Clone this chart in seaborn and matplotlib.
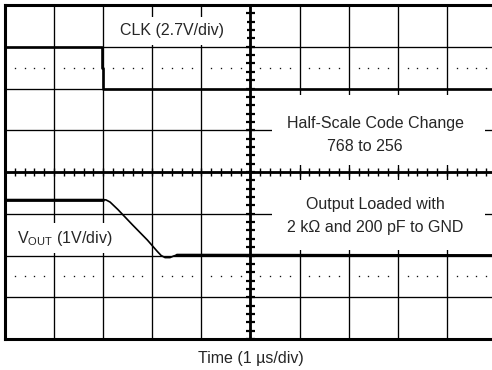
import numpy as np
import pandas as pd
import seaborn as sns
import matplotlib.pyplot as plt
from matplotlib.patches import Rectangle

sns.set_style("white")
plt.rcParams['font.family'] = ['Liberation Sans', 'DejaVu Sans']
plt.rcParams['mathtext.fontset'] = 'custom'
plt.rcParams['mathtext.rm'] = 'Liberation Sans'
plt.rcParams['mathtext.it'] = 'Liberation Sans:italic'

# scope screen: 10 x 8 divisions
n_xdiv = 10
n_ydiv = 8

# CLK trace (divisions)
clk_t = [0, 1.97, 1.97, 2.0, 2.0, 10]
clk_v = [7, 7, 6.5, 6.5, 6, 6]

# VOUT trace (divisions)
vout_t = [0, 2.0, 2.06, 2.14, 2.3, 2.6, 2.9, 3.1, 3.18, 3.26, 3.36, 3.44, 3.5, 3.75, 10]
vout_v = [3.34, 3.34, 3.33, 3.28, 3.1, 2.73, 2.37, 2.1, 2.0, 1.95, 1.95, 1.99, 2.01, 2.01, 2.0]

fs = 11.5

fig = plt.figure(figsize=(4.92, 3.70), dpi=100)
# right edge of the screen runs just past the picture
ax = fig.add_axes([5 / 492, 31 / 370, 491 / 492, 334 / 370])
ax.set_xlim(0, n_xdiv)
ax.set_ylim(0, n_ydiv)

# graticule
for gx in range(1, n_xdiv):
    ax.axvline(gx, color='k', lw=0.95, zorder=1)
for gy in range(1, n_ydiv):
    ax.axhline(gy, color='k', lw=0.95, zorder=1)

# centre lines with minor ticks
ax.axvline(n_xdiv / 2, color='k', lw=2.0, zorder=1.5)
ax.axhline(n_ydiv / 2, color='k', lw=2.0, zorder=1.5)
for ty in np.arange(0, n_ydiv, 0.2):
    ax.plot([4.9, 5.1], [ty, ty], color='k', lw=1.6, zorder=1.5, solid_capstyle='butt')
for tx in np.arange(0, n_xdiv, 0.2):
    ax.plot([tx, tx], [3.9, 4.1], color='k', lw=1.0, zorder=1.5, solid_capstyle='butt')

# dotted rows
dots_x = [x for x in np.arange(0.2, n_xdiv, 0.2) if abs(x - round(x)) > 0.05]
for dy in (6.5, 1.5):
    ax.plot(dots_x, [dy] * len(dots_x), ls='none', marker='s', ms=0.95,
            mew=0, color='#111111', zorder=1)

# white label areas over the grid
for (x0, y0, w, h) in [(2.1, 7.04, 2.82, 0.68),
                       (5.44, 4.17, 4.34, 1.67),
                       (5.44, 2.13, 4.34, 1.68),
                       (0.14, 2.06, 2.3, 0.72)]:
    ax.add_patch(Rectangle((x0, y0), w, h, facecolor='white', edgecolor='none', zorder=2))

# traces
sns.lineplot(x=clk_t, y=clk_v, color='k', lw=1.9, sort=False, estimator=None, ax=ax, zorder=3)
sns.lineplot(x=vout_t, y=vout_v, color='k', lw=1.2, sort=False, estimator=None, ax=ax, zorder=3)
sns.lineplot(x=vout_t[:2], y=vout_v[:2], color='k', lw=2.0, sort=False, estimator=None, ax=ax, zorder=3)
sns.lineplot(x=vout_t[-3:], y=vout_v[-3:], color='k', lw=2.0, sort=False, estimator=None, ax=ax, zorder=3)

# labels
ax.text(3.4, 7.38, "CLK (2.7V/div)", ha='center', va='center', fontsize=fs, zorder=4)
ax.text(7.55, 5.17, "Half-Scale Code Change", ha='center', va='center', fontsize=fs, zorder=4)
ax.text(7.33, 4.6, "768 to 256", ha='center', va='center', fontsize=fs, zorder=4)
ax.text(7.55, 3.23, "Output Loaded with", ha='center', va='center', fontsize=fs, zorder=4)
ax.text(7.53, 2.68, "2 k\u03a9 and 200 pF to GND", ha='center', va='center', fontsize=fs, zorder=4)
ax.text(0.25, 2.4, "V$_{\\rm OUT}$ (1V/div)", ha='left', va='center', fontsize=fs, zorder=4)

ax.set_xticks([])
ax.set_yticks([])
ax.set_xlabel("")
ax.set_ylabel("")
for side in ['left', 'top', 'bottom', 'right']:
    ax.spines[side].set_linewidth(2.2)
    ax.spines[side].set_color('k')

fig.text(251 / 492, 1 - 358 / 370, "Time (1 \u00b5s/div)", ha='center', va='center', fontsize=fs)

fig.savefig("out.png", dpi=100)
